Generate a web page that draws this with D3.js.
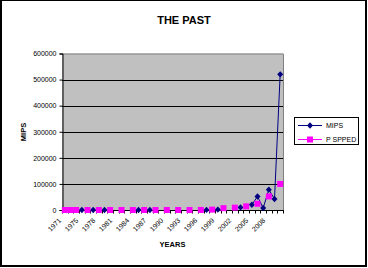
<!DOCTYPE html>
<html>
<head>
<meta charset="utf-8">
<script src="https://cdn.jsdelivr.net/npm/d3@7"></script>
<style>
  body { margin: 0; background: #fff; }
  svg { display: block; }
  text { font-family: "Liberation Sans", Arial, sans-serif; }
</style>
</head>
<body>
<svg id="chart" width="368" height="268"></svg>
<script>
// categories (only every 3rd one is labelled on the axis)
var years = [1971, 1972, 1974, 1975, 1976, 1977, 1978, 1979, 1980, 1981,
             1982, 1983, 1984, 1985, 1986, 1987, 1988, 1989, 1990, 1991,
             1992, 1993, 1994, 1995, 1996, 1997, 1998, 1999, 2000, 2001,
             2002, 2003, 2004, 2005, 2006, 2007, 2008, 2009, 2010];

// MIPS, blanks are gaps
var mips = [null, null, null, 1, null, 2, null, 4, null, null,
            null, null, null, 8, null, 20, null, null, null, null,
            null, null, null, null, null, 300, null, 1500, null, null,
            null, 10000, null, 20000, 52000, 7600, 78000, 42000, 520000];

// P SPPED
var pspeed = [0.1, 0.2, 0.5, null, 1, null, 2, null, 5, null,
              8, null, 12, null, 16, null, 25, null, 33, null,
              66, null, 100, null, 200, null, 1500, null, 7000, null,
              9000, null, 14000, null, 24000, null, 52000, null, 100000];

var yTicks = [0, 100000, 200000, 300000, 400000, 500000, 600000];
var seriesNames = ["MIPS", "P SPPED"];

var plot = {left: 62, right: 283, top: 53.5, bottom: 210},
    navy = "#000080", magenta = "#FF00FF";

var svg = d3.select("#chart");

// outer chart border
svg.append("rect")
  .attr("x", 1).attr("y", 0).attr("width", 365).attr("height", 266)
  .attr("fill", "#fff").attr("stroke", "#000").attr("stroke-width", 2);

svg.append("text")
  .attr("x", 184).attr("y", 24)
  .attr("text-anchor", "middle")
  .attr("font-size", "11px").attr("font-weight", "bold")
  .text("THE PAST");

var x = d3.scaleBand()
  .domain(d3.range(years.length))
  .range([plot.left, plot.right]);

var y = d3.scaleLinear()
  .domain([0, 600000])
  .range([plot.bottom, plot.top]);

var bw = x.bandwidth();
function cx(i) { return x(i) + bw / 2; }

// plot area
svg.append("rect")
  .attr("x", plot.left).attr("y", plot.top)
  .attr("width", plot.right - plot.left).attr("height", plot.bottom - plot.top)
  .attr("fill", "#C0C0C0");
svg.append("path")
  .attr("d", `M${plot.left},${plot.top + 0.5}H${plot.right + 0.5}V${plot.bottom}`)
  .attr("fill", "none").attr("stroke", "#808080");

// gridlines
svg.append("g")
  .selectAll("line")
  .data(yTicks.slice(1, -1))
  .enter().append("line")
  .attr("x1", plot.left).attr("x2", plot.right)
  .attr("y1", d => Math.round(y(d)) + 0.5).attr("y2", d => Math.round(y(d)) + 0.5)
  .attr("stroke", "#000");

// y axis
var yAxis = svg.append("g")
  .attr("transform", `translate(${plot.left + 0.5},0)`)
  .call(d3.axisLeft(y).tickValues(yTicks).tickSize(3).tickPadding(3).tickFormat(d3.format("d")));
yAxis.select(".domain").attr("stroke", "#000");
yAxis.selectAll("text").attr("font-size", "7px").attr("fill", "#000");

svg.append("text")
  .attr("transform", "translate(26,132) rotate(-90)")
  .attr("text-anchor", "middle")
  .attr("font-size", "7.5px").attr("font-weight", "bold")
  .text("MIPS");

// x axis
svg.append("line")
  .attr("x1", plot.left).attr("x2", plot.right + 1)
  .attr("y1", plot.bottom + 0.5).attr("y2", plot.bottom + 0.5)
  .attr("stroke", "#000");
svg.append("g")
  .selectAll("line")
  .data(d3.range(years.length + 1))
  .enter().append("line")
  .attr("x1", i => Math.round(i < years.length ? x(i) : plot.right) + 0.5)
  .attr("x2", i => Math.round(i < years.length ? x(i) : plot.right) + 0.5)
  .attr("y1", plot.bottom).attr("y2", plot.bottom + 3.5)
  .attr("stroke", "#000");

svg.append("g")
  .selectAll("text")
  .data(d3.range(0, years.length - 2, 3))
  .enter().append("text")
  .attr("transform", i => `translate(${cx(i) - 3},${plot.bottom + 11}) rotate(-45)`)
  .attr("text-anchor", "end")
  .attr("font-size", "7px")
  .text(i => years[i]);

svg.append("text")
  .attr("x", (plot.left + plot.right) / 2).attr("y", 247)
  .attr("text-anchor", "middle")
  .attr("font-size", "7.5px").attr("font-weight", "bold")
  .text("YEARS");

// series
function drawSeries(values, color, marker) {
  var pts = values.map((v, i) => ({i: i, v: v}));
  var line = d3.line()
    .defined(d => d.v != null)
    .x(d => cx(d.i))
    .y(d => y(d.v));
  svg.append("path")
    .datum(pts)
    .attr("d", line)
    .attr("fill", "none")
    .attr("stroke", color)
    .attr("stroke-width", 1);
  var g = svg.append("g");
  pts.filter(d => d.v != null).forEach(d => marker(g, cx(d.i), y(d.v)));
}

function diamond(g, px, py) {
  g.append("path")
    .attr("d", `M${px},${py - 3.2}L${px + 3},${py}L${px},${py + 3.2}L${px - 3},${py}Z`)
    .attr("fill", navy);
}
function square(g, px, py) {
  g.append("rect")
    .attr("x", px - 3).attr("y", py - 3)
    .attr("width", 6).attr("height", 6)
    .attr("fill", magenta);
}

drawSeries(mips, navy, diamond);
drawSeries(pspeed, magenta, square);

// legend
var leg = svg.append("g");
leg.append("rect")
  .attr("x", 294.5).attr("y", 117.5).attr("width", 64).attr("height", 27)
  .attr("fill", "#fff").attr("stroke", "#000");
[[navy, diamond], [magenta, square]].forEach((s, k) => {
  var ly = 125.5 + k * 14;
  leg.append("line")
    .attr("x1", 298).attr("x2", 322).attr("y1", ly).attr("y2", ly)
    .attr("stroke", s[0]);
  s[1](leg, 310, ly);
  leg.append("text")
    .attr("x", 326).attr("y", ly).attr("dy", "0.35em")
    .attr("font-size", "7px")
    .text(seriesNames[k]);
});
</script>
</body>
</html>
